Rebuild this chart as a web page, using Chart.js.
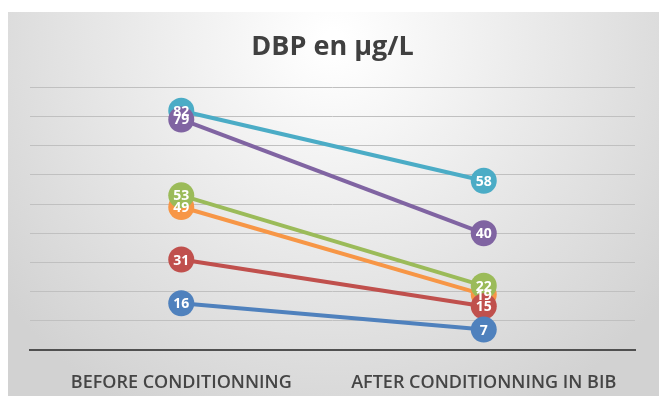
<!DOCTYPE html>
<html lang="fr">
<head>
  <title>DBP en µg/L</title>
  <script src="https://cdn.jsdelivr.net/npm/chart.js"></script>
  <style>
    body { margin: 0; background: #fff; }
    .box { width: 659px; height: 396px; }
  </style>
</head>
<body>
  <div class="box">
    <canvas id="dbp" width="659" height="396"></canvas>
  </div>

<script>
  // valeurs
  const categories = ['BEFORE CONDITIONNING', 'AFTER CONDITIONNING IN BIB'];
  const serieBleue = [16, 7];
  const serieRouge = [31, 15];
  const serieVerte = [53, 22];
  const serieViolette = [79, 40];
  const serieTurquoise = [82, 58];
  const serieOrange = [49, 19];

  const FONTE = "'Open Sans', sans-serif";

  function serie(nom, valeurs, couleur) {
    return {
      label: nom,
      data: valeurs,
      borderColor: couleur,
      backgroundColor: couleur,
      borderWidth: 4,
      pointRadius: 13,
      pointHoverRadius: 13,
      pointBorderWidth: 0,
      tension: 0,
      clip: false
    };
  }

  // fond dégradé facon Excel
  const fond = {
    id: 'fond',
    beforeDraw(chart) {
      const ctx = chart.ctx;
      ctx.save();
      ctx.fillStyle = '#ffffff';
      ctx.fillRect(0, 0, chart.width, chart.height);
      const g = ctx.createRadialGradient(333, 40, 10, 333, 40, 420);
      g.addColorStop(0, '#ffffff');
      g.addColorStop(1, '#d2d2d2');
      ctx.fillStyle = g;
      ctx.fillRect(8, 12, chart.width - 8, chart.height - 12);
      ctx.restore();
    }
  };

  // étiquettes blanches dans les points
  const etiquettes = {
    id: 'etiquettes',
    afterDatasetsDraw(chart) {
      const ctx = chart.ctx;
      ctx.save();
      ctx.fillStyle = '#ffffff';
      ctx.font = "bold 14px " + FONTE;
      ctx.textAlign = 'center';
      ctx.textBaseline = 'middle';
      chart.data.datasets.forEach(function (ds, i) {
        chart.getDatasetMeta(i).data.forEach(function (pt, j) {
          ctx.fillText(ds.data[j], pt.x, pt.y + 1);
        });
      });
      ctx.restore();
    }
  };

  new Chart(document.getElementById('dbp'), {
    type: 'line',
    data: {
      labels: categories,
      datasets: [
        serie('Bleu', serieBleue, '#4F81BD'),
        serie('Rouge', serieRouge, '#C0504D'),
        serie('Vert', serieVerte, '#9BBB59'),
        serie('Violet', serieViolette, '#8064A2'),
        serie('Turquoise', serieTurquoise, '#4BACC6'),
        serie('Orange', serieOrange, '#F79646')
      ]
    },
    options: {
      responsive: false,
      animation: false,
      layout: { padding: { left: 30, right: 24, top: 31, bottom: 0 } },
      plugins: {
        legend: { display: false },
        tooltip: { enabled: false },
        title: {
          display: true,
          text: 'DBP en µg/L',
          color: '#404040',
          font: { size: 27, weight: 'bold', family: FONTE },
          padding: { top: 0, bottom: 24 }
        }
      },
      scales: {
        x: {
          offset: true,
          grid: { display: false },
          border: { color: '#505050', width: 2 },
          afterFit: function (scale) { scale.height = 46; },
          ticks: {
            color: '#454545',
            padding: 14,
            maxRotation: 0,
            font: { size: 18, weight: '600', family: FONTE }
          }
        },
        y: {
          min: 0,
          max: 90,
          ticks: { display: false, stepSize: 10 },
          grid: { color: '#c0c0c0', drawTicks: false },
          border: { display: false }
        }
      }
    },
    plugins: [fond, etiquettes]
  });
</script>
</body>
</html>
